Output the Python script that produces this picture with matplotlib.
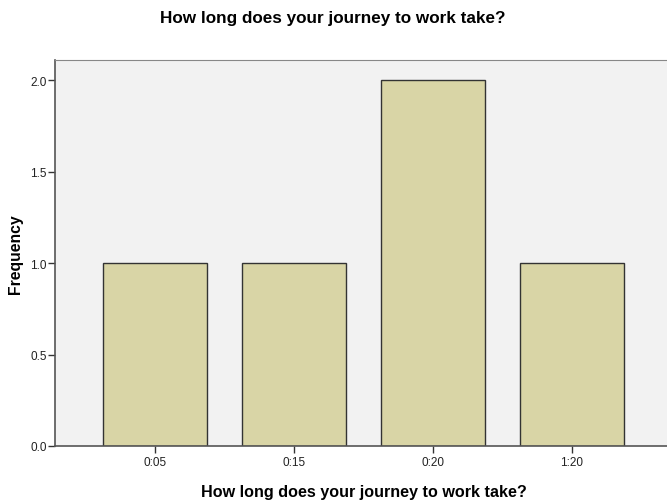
import matplotlib
matplotlib.use('Agg')
import matplotlib.pyplot as plt

plt.rcParams['font.family'] = ['Liberation Sans', 'DejaVu Sans']

categories = ['0:05', '0:15', '0:20', '1:20']
frequency = [1, 1, 2, 1]
yticks = [0.0, 0.5, 1.0, 1.5, 2.0]
title = 'How long does your journey to work take?'

W, H = 667, 502
fig = plt.figure(figsize=(W / 100, H / 100), dpi=100)
ax = fig.add_axes([55 / W, 1 - 447 / H, 617 / W, (447 - 61) / H])
ax.set_facecolor('#f2f2f2')

x = range(len(categories))
ax.bar(x, frequency, width=0.75, color='#d9d5a6', edgecolor='#333333', linewidth=1)

ax.set_xlim(-0.72, 3.72)
ax.set_ylim(0, 2.11)
ax.set_xticks(list(x))
ax.set_xticklabels(categories)
ax.set_yticks(yticks)
ax.set_yticklabels([f'{v:.1f}' for v in yticks])
ax.tick_params(axis='both', labelsize=8.5, labelcolor='#222222', length=5, width=1, color='#333333')
ax.tick_params(axis='x', pad=2)
ax.tick_params(axis='y', pad=1)

for side in ['left', 'bottom']:
    ax.spines[side].set_color('#555555')
    ax.spines[side].set_linewidth(1.2)
ax.spines['top'].set_color('#888888')
ax.spines['right'].set_visible(False)

# labels placed in figure pixels
fig.text(15 / W, 1 - 254 / H, 'Frequency', rotation=90, ha='center', va='center',
         fontsize=11.3, fontweight='bold')
fig.text(364 / W, 1 - 497 / H, title, ha='center', va='baseline',
         fontsize=11.6, fontweight='bold')
fig.text(333 / W, 1 - 23 / H, title, ha='center', va='baseline',
         fontsize=12.3, fontweight='bold')

plt.savefig('out.png', dpi=100)
